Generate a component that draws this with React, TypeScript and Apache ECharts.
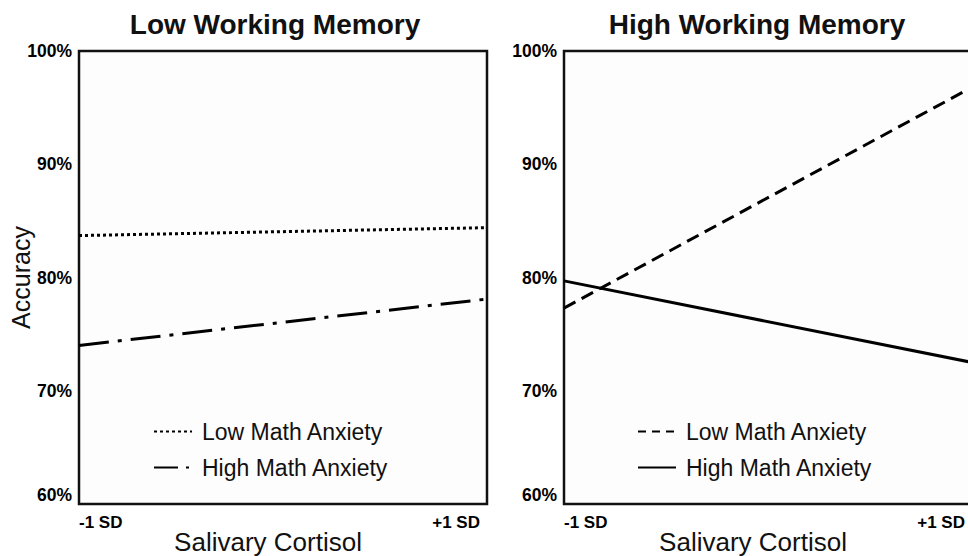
import React, { useEffect, useRef } from "react";
import * as echarts from "echarts";

const xValues = [-1, 1];
const xTickLabels = ["-1 SD", "+1 SD"];
const panelTitles = ["Low Working Memory", "High Working Memory"];
const seriesNames = ["Low Math Anxiety", "High Math Anxiety"];
// Low working memory panel
const lowWMLowMA = [83.7, 84.4];
const lowWMHighMA = [74.0, 78.1];
// High working memory panel
const highWMLowMA = [77.3, 96.8];
const highWMHighMA = [79.7, 72.5];

const FONT = 'Arial, "Liberation Sans", Helvetica, sans-serif';

export default function App() {
  const ref = useRef<HTMLDivElement>(null);
  useEffect(() => {
    if (!ref.current) return;
    const chart = echarts.init(ref.current, null, { renderer: "svg" });
    const pts = (vals: number[]) => xValues.map((x, i) => [x, vals[i]]);
    const grids = [
      { left: 79, top: 51, width: 408, height: 453 },
      { left: 564, top: 51, width: 408, height: 453 },
    ];
    const xAxis = grids.map((_, gi) => ({
      type: "value",
      gridIndex: gi,
      min: -1,
      max: 1,
      interval: 2,
      name: "Salivary Cortisol",
      nameLocation: "middle",
      nameGap: 25,
      nameMoveOverlap: false,
      nameTextStyle: { fontFamily: FONT, fontSize: 26, color: "#111", padding: [0, 30, 0, 0] },
      axisLine: { show: false },
      axisTick: { show: false },
      splitLine: { show: false },
      axisLabel: {
        formatter: (v: number) => xTickLabels[xValues.indexOf(v)] ?? "",
        fontFamily: FONT,
        fontWeight: "bold",
        fontSize: 17,
        color: "#000",
        margin: 10,
        padding: [0, 7, 0, 0],
        alignMinLabel: "left",
        alignMaxLabel: "right",
      },
    }));
    const yAxis = grids.map((_, gi) => ({
      type: "value",
      gridIndex: gi,
      min: 60,
      max: 100,
      interval: 10,
      name: gi === 0 ? "Accuracy" : "",
      nameLocation: "middle",
      nameGap: 46,
      nameMoveOverlap: false,
      nameTextStyle: { fontFamily: FONT, fontSize: 25, color: "#111" },
      axisLine: { show: false },
      axisTick: { show: false },
      splitLine: { show: false },
      axisLabel: {
        formatter: "{value}%",
        fontFamily: FONT,
        fontWeight: "bold",
        fontSize: 17.5,
        color: "#000",
        margin: 7,
        verticalAlignMinLabel: "bottom",
      },
    }));
    const dotted = [3, 3];
    const dashDot = [30, 9, 4, 9];
    const dashed = [13, 7];
    const mk = (id: string, name: string, gi: number, vals: number[], type: any) => ({
      id,
      name,
      type: "line",
      xAxisIndex: gi,
      yAxisIndex: gi,
      data: pts(vals),
      symbol: "none",
      lineStyle: { color: "#000", width: 3, type },
      itemStyle: { color: "#000" },
    });
    const series = [
      mk("a", "L|" + seriesNames[0], 0, lowWMLowMA, dotted),
      mk("b", "L|" + seriesNames[1], 0, lowWMHighMA, dashDot),
      mk("c", "H|" + seriesNames[0], 1, highWMLowMA, dashed),
      mk("d", "H|" + seriesNames[1], 1, highWMHighMA, "solid"),
    ];
    const legendBase = {
      orient: "vertical",
      top: 420,
      padding: 0,
      itemWidth: 38,
      itemHeight: 14,
      itemGap: 13,
      selectedMode: false,
      formatter: (n: string) => n.split("|")[1],
      itemStyle: { color: "rgba(0,0,0,0)", borderWidth: 0, opacity: 0 },
      textStyle: { fontFamily: FONT, fontSize: 23, color: "#111", padding: [0, 0, 0, 5], lineHeight: 22 },
    };
    chart.setOption({
      animation: false,
      backgroundColor: "#ffffff",
      title: [
        { text: panelTitles[0], left: 270, top: 5, textAlign: "center", textStyle: { fontFamily: FONT, fontWeight: "bold", fontSize: 28, color: "#111" } },
        { text: panelTitles[1], left: 752, top: 5, textAlign: "center", textStyle: { fontFamily: FONT, fontWeight: "bold", fontSize: 28, color: "#111" } },
      ],
      legend: [
        {
          ...legendBase,
          left: 153,
          data: [
            { name: "L|" + seriesNames[0], lineStyle: { type: [3, 3] } },
            { name: "L|" + seriesNames[1], lineStyle: { type: [24, 8, 3, 6] } },
          ],
        },
        {
          ...legendBase,
          left: 637,
          data: [
            { name: "H|" + seriesNames[0], lineStyle: { type: [8, 6] } },
            { name: "H|" + seriesNames[1] },
          ],
        },
      ],
      grid: grids.map((g) => ({
        ...g,
        show: true,
        borderColor: "#111",
        borderWidth: 2.5,
        backgroundColor: "#fdfdfd",
        outerBoundsMode: "none",
        containLabel: false,
      })),
      xAxis,
      yAxis,
      series,
    });
    return () => chart.dispose();
  }, []);
  return (
    <div
      ref={ref}
      style={{ position: "fixed", left: 0, top: 0, width: 968, height: 556, background: "#fff" }}
    />
  );
}
